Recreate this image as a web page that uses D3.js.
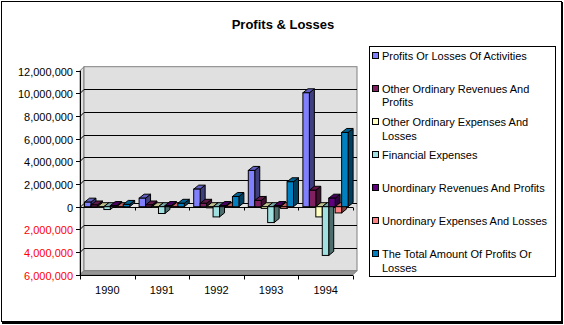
<!DOCTYPE html>
<html><head><meta charset="utf-8">
<script src="https://cdn.jsdelivr.net/npm/d3@7"></script>
<style>body{margin:0;background:#fff}svg{display:block;font-family:"Liberation Sans",Arial,sans-serif}</style>
</head><body>
<script>
const years = ["1990","1991","1992","1993","1994"];
const seriesNames = [
  "Profits Or Losses Of Activities",
  "Other Ordinary Revenues And Profits",
  "Other Ordinary Expenses And Losses",
  "Financial Expenses",
  "Unordinary Revenues And Profits",
  "Unordinary Expenses And Losses",
  "The Total Amount Of Profits Or Losses"
];
const profitsActivities   = [400000, 750000, 1550000, 3200000, 10050000];
const otherOrdRevenues    = [150000, 150000, 300000, 550000, 1450000];
const otherOrdExpenses    = [-50000, -50000, -100000, -150000, -900000];
const financialExpenses   = [-250000, -600000, -900000, -1400000, -4300000];
const unordRevenues       = [100000, 100000, 100000, 100000, 750000];
const unordExpenses       = [-50000, -50000, -50000, -150000, -550000];
const totalProfits        = [200000, 300000, 900000, 2200000, 6550000];
const seriesValues = [profitsActivities, otherOrdRevenues, otherOrdExpenses, financialExpenses, unordRevenues, unordExpenses, totalProfits];
const colors = ["#8080ff","#802060","#ffffc0","#a0e0e0","#600080","#ff8080","#0080c0"];
const yTicks = [-6000000,-4000000,-2000000,0,2000000,4000000,6000000,8000000,10000000,12000000];
const title = "Profits & Losses";

const W = 564, H = 325;
const svg = d3.select("body").append("svg").attr("width", W).attr("height", H);

// outer frame with shadow
svg.append("rect").attr("x",2).attr("y",2).attr("width",561).attr("height",322).attr("fill","#000");
svg.append("rect").attr("x",1.5).attr("y",1.5).attr("width",560).attr("height",320).attr("fill","#fff").attr("stroke","#000").attr("stroke-width",1);

svg.append("text").attr("x",283).attr("y",28.5).attr("text-anchor","middle")
  .attr("font-size",13).attr("font-weight","bold").text(title);

const y = d3.scaleLinear().domain([-6000000, 12000000]).range([274.7, 70.7]);
const x0 = d3.scaleBand().domain(years).range([80, 353]);
const x1 = d3.scaleBand().domain(seriesNames).range([4.5, 49.7]);
const wdx = 4, wdy = -4;   // wall depth
const bdx = 5, bdy = -4;   // bar depth

const xL = 80, xR = 353, yT = y(12000000), yB = y(-6000000);

// left side wall
svg.append("path").attr("d", `M${xL},${yT}L${xL+wdx},${yT+wdy}L${xL+wdx},${yB+wdy}L${xL},${yB}Z`)
  .attr("fill","#e0e0e0").attr("stroke","#808080");
// back wall
svg.append("rect").attr("x", xL+wdx).attr("y", yT+wdy).attr("width", xR-xL).attr("height", yB-yT)
  .attr("fill","#e0e0e0").attr("stroke","#808080");
// floor
svg.append("path").attr("d", `M${xL},${yB}L${xR},${yB}L${xR+wdx},${yB+wdy}L${xL+wdx},${yB+wdy}Z`)
  .attr("fill","#969696").attr("stroke","#808080");

// gridlines
const grid = svg.append("g").attr("stroke","#000").attr("stroke-width",1).attr("fill","none");
yTicks.filter(v => v > -6000000 && v < 12000000).forEach(v => {
  const yy = Math.round(y(v)) + 0.5;
  grid.append("path").attr("d", `M${xL},${yy}L${xL+wdx},${yy+wdy}L${xR+wdx},${yy+wdy}`);
});

// value axis
const ax = svg.append("g");
ax.append("line").attr("x1",80.5).attr("x2",80.5).attr("y1",yT).attr("y2",yB+0.5).attr("stroke","#000");
yTicks.forEach(v => {
  const yy = Math.round(y(v)) + 0.5;
  ax.append("line").attr("x1",76).attr("x2",80.5).attr("y1",yy).attr("y2",yy).attr("stroke","#000");
  ax.append("text").attr("x",73).attr("y",yy+4).attr("text-anchor","end").attr("font-size",11)
    .attr("fill", v < 0 ? "#ff0000" : "#000").text(d3.format(",")(Math.abs(v)));
});

// zero category line
const y0 = Math.round(y(0)) + 0.5;
svg.append("line").attr("x1",80).attr("x2",353).attr("y1",y0).attr("y2",y0).attr("stroke","#000");
years.concat(["end"]).forEach((c,i) => {
  const xx = Math.round(80 + i*x0.step()) + 0.5;
  svg.append("line").attr("x1",xx).attr("x2",xx).attr("y1",y0).attr("y2",y0+3).attr("stroke","#000");
});

// bars
const bars = svg.append("g").attr("stroke","#000").attr("stroke-width",1).attr("stroke-linejoin","miter");
years.forEach((cat, i) => {
  seriesNames.forEach((name, j) => {
    const v = seriesValues[j][i];
    const c = colors[j];
    const xa = x0(cat) + x1(name), w = x1.bandwidth();
    const ta = y(Math.max(v,0)), ba = y(Math.min(v,0));
    bars.append("path").attr("d", `M${xa+w},${ta}L${xa+w+bdx},${ta+bdy}L${xa+w+bdx},${ba+bdy}L${xa+w},${ba}Z`)
      .attr("fill", d3.color(c).darker(2));
    bars.append("path").attr("d", `M${xa},${ta}L${xa+bdx},${ta+bdy}L${xa+w+bdx},${ta+bdy}L${xa+w},${ta}Z`)
      .attr("fill", d3.color(c).darker(0.8));
    bars.append("rect").attr("x", xa).attr("y", ta).attr("width", w).attr("height", Math.max(ba-ta, 0.5))
      .attr("fill", c);
  });
});

// bottom category axis
const yb = Math.round(yB) + 0.5;
svg.append("line").attr("x1",80).attr("x2",353).attr("y1",yb).attr("y2",yb).attr("stroke","#000");
years.concat(["end"]).forEach((c,i) => {
  const xx = Math.round(80 + i*x0.step()) + 0.5;
  svg.append("line").attr("x1",xx).attr("x2",xx).attr("y1",yb).attr("y2",yb+4).attr("stroke","#000");
});
years.forEach(cat => {
  svg.append("text").attr("x", x0(cat) + x0.bandwidth()/2).attr("y", 294).attr("text-anchor","middle")
    .attr("font-size",11).text(cat);
});

// legend
svg.append("rect").attr("x",369.5).attr("y",46.5).attr("width",186).attr("height",230)
  .attr("fill","#fff").attr("stroke","#000");
const lg = svg.append("g").attr("font-size",11);
seriesNames.forEach((name, j) => {
  const cy = 56 + j*33.05;
  lg.append("rect").attr("x",372.5).attr("y",Math.round(cy)-3.5).attr("width",6).attr("height",6)
    .attr("fill",colors[j]).attr("stroke","#000");
  const t = lg.append("text").attr("x",382).attr("y",cy+4);
  const words = name.split(" ");
  let line = [], lineNo = 0;
  let ts = t.append("tspan").attr("x",382).attr("y",cy+4);
  words.forEach(wd => {
    line.push(wd);
    ts.text(line.join(" "));
    if (ts.node().getComputedTextLength() > 170 && line.length > 1) {
      line.pop(); ts.text(line.join(" "));
      line = [wd]; lineNo++;
      ts = t.append("tspan").attr("x",382).attr("y",cy+4+lineNo*13.4).text(wd);
    }
  });
});
</script>
</body></html>
